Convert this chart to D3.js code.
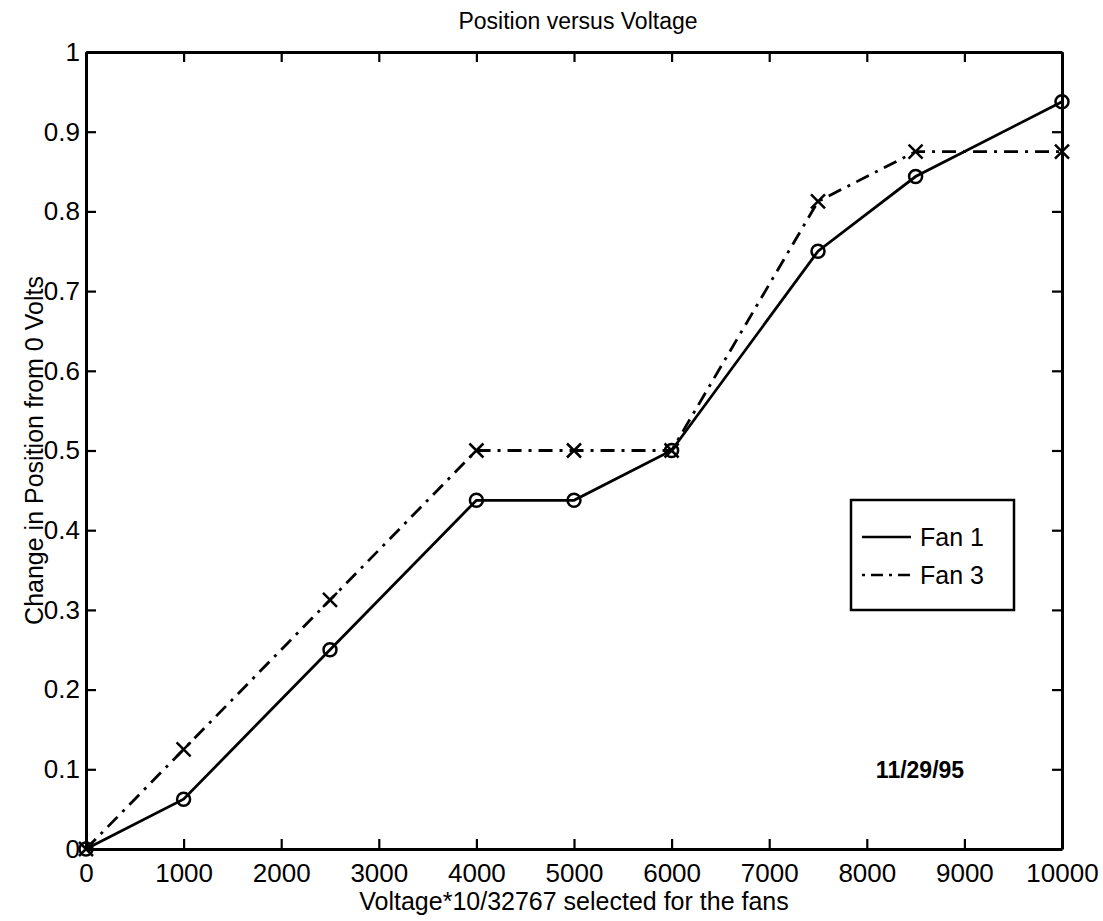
<!DOCTYPE html>
<html>
<head>
<meta charset="utf-8">
<script src="https://cdn.jsdelivr.net/npm/d3@7"></script>
<style>
  body { margin: 0; background: #fff; }
  svg { font-family: "Liberation Sans", Arial, sans-serif; }
  .axis path, .axis line { stroke: #000; }
  .axis path { stroke-width: 3; }
  .axis line { stroke-width: 2.2; }
  .axis text { font-size: 26px; fill: #000; }
</style>
</head>
<body>
<svg width="1103" height="921"></svg>
<script>
const voltage = [0, 1000, 2500, 4000, 5000, 6000, 7500, 8500, 10000];
const fan1 = [0, 0.0625, 0.25, 0.4375, 0.4375, 0.5, 0.75, 0.84375, 0.9375];
const fan3 = [0, 0.125, 0.3125, 0.5, 0.5, 0.5, 0.8125, 0.875, 0.875];
const xTicks = [0, 1000, 2000, 3000, 4000, 5000, 6000, 7000, 8000, 9000, 10000];
const yTicks = [0, 0.1, 0.2, 0.3, 0.4, 0.5, 0.6, 0.7, 0.8, 0.9, 1];

const svg = d3.select("svg"),
      margin = {top: 52, right: 41, bottom: 72, left: 86},
      width = +svg.attr("width") - margin.left - margin.right,
      height = +svg.attr("height") - margin.top - margin.bottom;

const g = svg.append("g").attr("transform", `translate(${margin.left},${margin.top})`);

const x = d3.scaleLinear().domain([0, 10000]).range([0, width]);
const y = d3.scaleLinear().domain([0, 1]).range([height, 0]);

const series = [
  {name: "Fan 1", values: fan1, dash: null, marker: "o"},
  {name: "Fan 3", values: fan3, dash: "14,7,3,7", marker: "x"}
];

// axes, ticks pointing inward on all four sides
g.append("g").attr("class", "axis")
  .attr("transform", `translate(0,${height})`)
  .call(d3.axisBottom(x).tickValues(xTicks).tickFormat(d3.format("d"))
    .tickSizeInner(-10).tickSizeOuter(0).tickPadding(15));

g.append("g").attr("class", "axis")
  .call(d3.axisLeft(y).tickValues(yTicks).tickFormat(d => d)
    .tickSizeInner(-10).tickSizeOuter(0).tickPadding(6));

g.append("g").attr("class", "axis")
  .call(d3.axisTop(x).tickValues(xTicks).tickFormat("")
    .tickSizeInner(-10).tickSizeOuter(0));

g.append("g").attr("class", "axis")
  .attr("transform", `translate(${width},0)`)
  .call(d3.axisRight(y).tickValues(yTicks).tickFormat("")
    .tickSizeInner(-10).tickSizeOuter(0));

// lines
const line = d3.line()
  .x((d, i) => x(voltage[i]))
  .y(d => y(d));

g.selectAll(".line")
  .data(series)
  .join("path")
  .attr("class", "line")
  .attr("fill", "none")
  .attr("stroke", "#000")
  .attr("stroke-width", 2.8)
  .attr("stroke-dasharray", d => d.dash)
  .attr("d", d => line(d.values));

// markers
const circ = g.append("g");
circ.selectAll("circle")
  .data(fan1)
  .join("circle")
  .attr("cx", (d, i) => x(voltage[i]))
  .attr("cy", d => y(d))
  .attr("r", 6.5)
  .attr("fill", "none")
  .attr("stroke", "#000")
  .attr("stroke-width", 2.5);

const cross = g.append("g");
const s = 7;
cross.selectAll("path")
  .data(fan3)
  .join("path")
  .attr("transform", (d, i) => `translate(${x(voltage[i])},${y(d)})`)
  .attr("d", `M${-s},${-s}L${s},${s}M${-s},${s}L${s},${-s}`)
  .attr("stroke", "#000")
  .attr("stroke-width", 2.5);

// title and labels
svg.append("text")
  .attr("x", margin.left + width / 2 + 4).attr("y", 29)
  .attr("text-anchor", "middle")
  .style("font-size", "23px")
  .text("Position versus Voltage");

svg.append("text")
  .attr("x", margin.left + width / 2).attr("y", 910)
  .attr("text-anchor", "middle")
  .style("font-size", "25px")
  .text("Voltage*10/32767 selected for the fans");

svg.append("text")
  .attr("transform", "rotate(-90)")
  .attr("x", -(margin.top + height / 2)).attr("y", 43)
  .attr("text-anchor", "middle")
  .style("font-size", "25px")
  .text("Change in Position from 0 Volts");

svg.append("text")
  .attr("x", 920).attr("y", 778)
  .attr("text-anchor", "middle")
  .style("font-size", "23px")
  .style("font-weight", "bold")
  .text("11/29/95");

// legend
const legend = svg.append("g").attr("transform", "translate(851,500)");
legend.append("rect")
  .attr("width", 163).attr("height", 110)
  .attr("fill", "#fff")
  .attr("stroke", "#000")
  .attr("stroke-width", 2.5);

const items = legend.selectAll(".item")
  .data(series)
  .join("g")
  .attr("class", "item")
  .attr("transform", (d, i) => `translate(0,${37 + i * 38})`);

items.append("line")
  .attr("x1", 11).attr("x2", 60)
  .attr("stroke", "#000")
  .attr("stroke-width", 2.5)
  .attr("stroke-dasharray", d => d.dash ? "3,6,12,6" : null);

items.append("text")
  .attr("x", 69).attr("dy", "0.35em")
  .style("font-size", "25px")
  .text(d => d.name);
</script>
</body>
</html>
